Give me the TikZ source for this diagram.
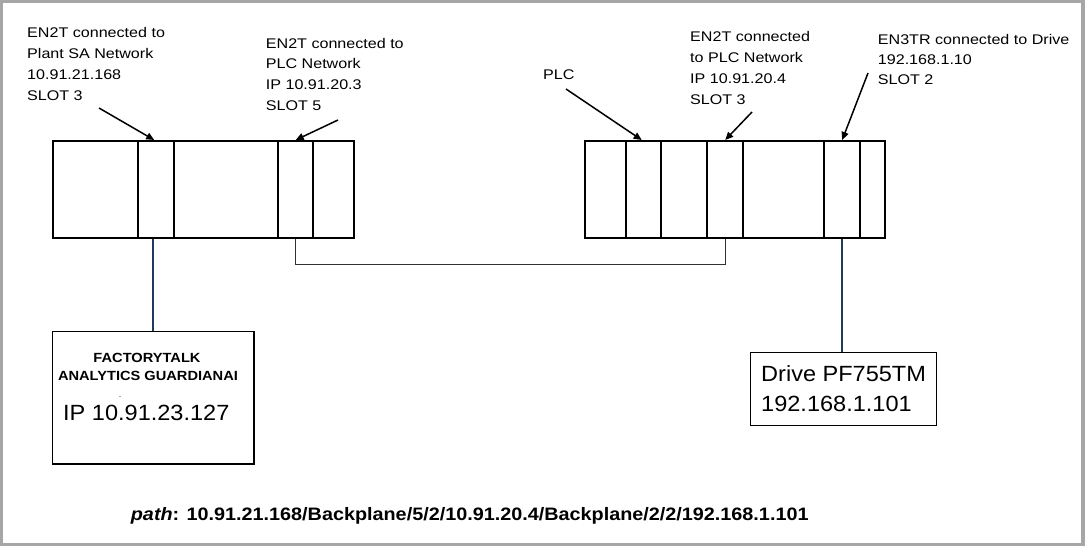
\documentclass[tikz,border=0pt]{standalone}
\usepackage{fontspec}
\setmainfont{Liberation Sans}
\newfontfamily\lblfont[FakeStretch=1.15]{Liberation Sans}
\newfontfamily\bigfont[FakeStretch=1.07]{Liberation Sans}
\newfontfamily\ftfont[FakeStretch=1.1]{Liberation Sans}
\newfontfamily\pathfont[FakeStretch=1.1]{Liberation Sans}
\usetikzlibrary{arrows.meta,calc}
\definecolor{framegray}{HTML}{A6A6A6}
\definecolor{linkblue}{HTML}{1F3B5C}
\definecolor{linkgray}{HTML}{303030}
\begin{document}
\begin{tikzpicture}[x=1pt,y=-1pt,
  slot/.style={draw=black,line width=2.4pt,minimum height=97pt,inner sep=0pt,anchor=north west},
  lbl/.style={anchor=north west,inner sep=0pt,align=left,font=\lblfont\fontsize{14}{20.7}\selectfont},
  ptr/.style={line width=1.5pt,-{Triangle[length=8pt,width=7pt]}},
  devbox/.style={draw=black,line width=1.2pt,inner sep=0pt},
  bigtxt/.style={anchor=base west,inner sep=0pt,font=\bigfont\fontsize{22}{30}\selectfont},
  fttxt/.style={anchor=base,inner sep=0pt,font=\ftfont\bfseries\fontsize{13.3}{16}\selectfont},
  bluelink/.style={draw=linkblue,line width=1.6pt},
  graylink/.style={draw=linkgray,line width=1.4pt}
]
% frame / background
\fill[framegray] (0,0) rectangle (1085,546);
\fill[white] (3,3) rectangle (1081,543);
\useasboundingbox (0,0) rectangle (1085,546);

% left rack
\foreach \nm/\x/\w in {ls1/52/85,ls2/137/36,ls3/173/104,ls4/277/35,ls5/312/41}
  \node[slot,minimum width=\w pt] (\nm) at (\x,140) {};
% right rack
\foreach \nm/\x/\w in {rs1/584/41,rs2/625/35,rs3/660/46,rs4/706/36,rs5/742/81,rs6/823/36,rs7/859/25}
  \node[slot,minimum width=\w pt] (\nm) at (\x,140) {};

% labels
\node[lbl] (lab1) at (27,27.6) {EN2T connected to\\Plant SA Network\\10.91.21.168\\SLOT 3};
\node[lbl] (lab2) at (265.7,37.9) {EN2T connected to\\PLC Network\\IP 10.91.20.3\\SLOT 5};
\node[lbl,anchor=base west] (lab3) at (543,79) {PLC};
\node[lbl] (lab4) at (690,31.6) {EN2T connected\\to PLC Network\\IP 10.91.20.4\\SLOT 3};
\node[lbl,font=\lblfont\fontsize{14}{20.3}\selectfont] (lab5) at (877.7,33.9) {EN3TR connected to Drive\\192.168.1.10\\SLOT 2};

% arrow start points
\coordinate (a1) at (99,108);
\coordinate (a2) at (338,120);
\coordinate (a3) at (566,89);
\coordinate (a4) at (752,112);
\coordinate (a5) at (868,73);
\draw[ptr] (a1) -- ($(ls2.north)+(-2,0)$);
\draw[ptr] (a2) -- (ls4.north);
\draw[ptr] (a3) -- ($(rs2.north)+(-2,0)$);
\draw[ptr] (a4) -- (rs4.north);
\draw[ptr] (a5) -- (rs6.north);

% link between racks
\draw[graylink] (ls4.south) -- ++(0,25) -| (rs4.south);

% FactoryTalk box
\node[devbox,minimum width=201.7pt,minimum height=132.3pt] (ft) at (153.2,397.9) {};
\draw[bluelink] (ft.north) -- (ft.north |- ls2.south);
\node[fttxt] (ft1) at (147,362.3) {FACTORYTALK};
\node[fttxt] (ft2) at (148,380) {ANALYTICS GUARDIANAI};
\node[anchor=base,inner sep=0pt,font=\fontsize{6}{7}\selectfont] (ftdash) at (120,398) {-};
\node[bigtxt] (ftip) at (63,420) {IP 10.91.23.127};

% Drive box
\node[devbox,minimum width=186pt,minimum height=72.6pt] (drive) at (843.7,389) {};
\draw[bluelink] (rs6.south) -- (rs6.south |- drive.north);
\node[bigtxt] (dr1) at (761,381.7) {Drive PF755TM};
\node[bigtxt] (dr2) at (761,411.7) {192.168.1.101};

% path text
\node[anchor=base west,inner sep=0pt,font=\pathfont\bfseries\fontsize{18}{22}\selectfont] (pathtxt) at (130.7,520)
  {\textit{path}: 10.91.21.168/Backplane/5/2/10.91.20.4/Backplane/2/2/192.168.1.101};
\end{tikzpicture}
\end{document}
